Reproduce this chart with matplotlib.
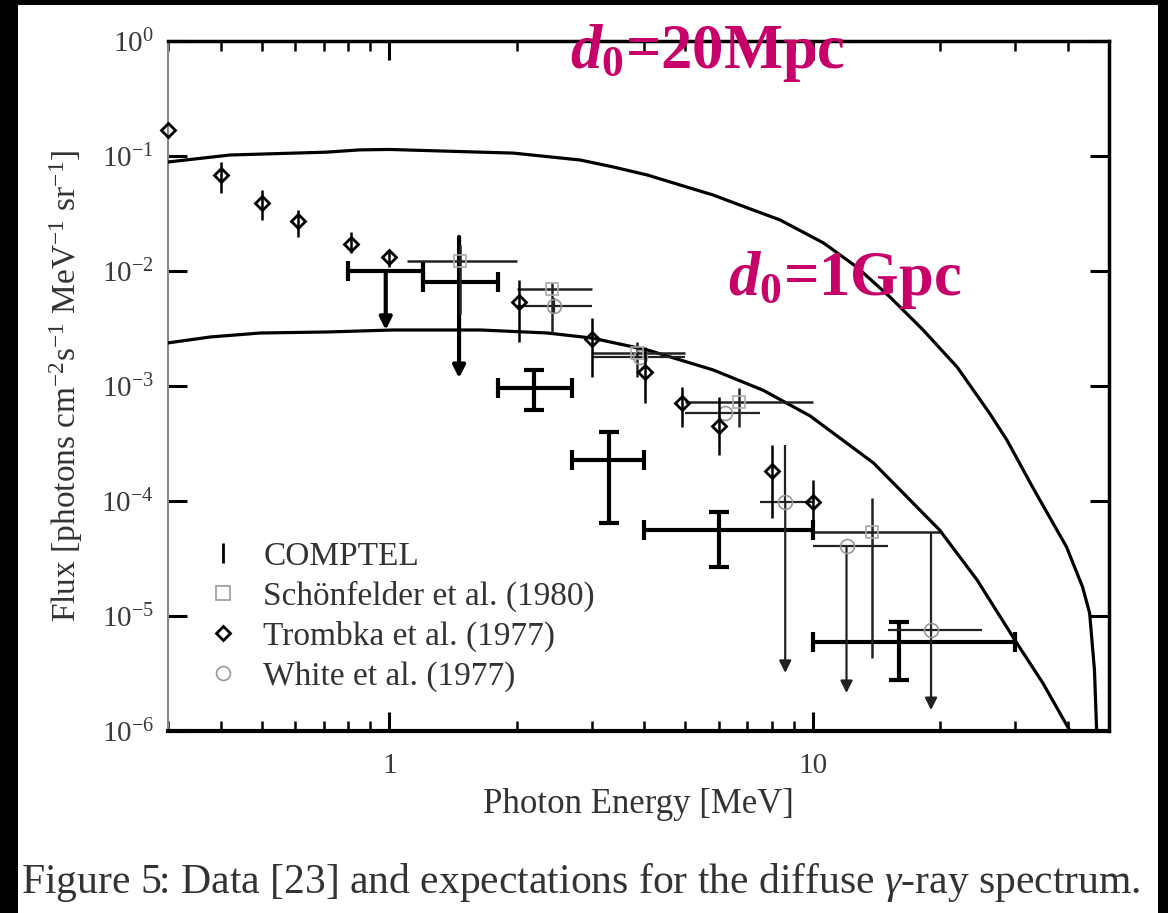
import matplotlib.pyplot as plt
from matplotlib.lines import Line2D
from matplotlib.patches import Rectangle
from matplotlib.ticker import NullLocator, NullFormatter
import numpy as np

plt.rcParams["font.family"] = ["Liberation Serif", "DejaVu Serif"]
plt.rcParams["mathtext.fontset"] = "custom"
plt.rcParams["mathtext.rm"] = "Liberation Serif"
plt.rcParams["mathtext.it"] = "Liberation Serif:italic"
plt.rcParams["mathtext.bf"] = "Liberation Serif:bold"
plt.rcParams["mathtext.bfit"] = "Liberation Serif:italic:bold"

# ---- data (MeV, photons cm^-2 s^-1 MeV^-1 sr^-1) ----
# model curves
d20_e = [0.3, 0.42, 0.71, 0.85, 1.0, 1.64, 1.96, 2.82, 3.38, 4.06, 4.86, 5.81,
         7.0, 8.36, 10.6, 12.7, 15.2, 18.2, 21.9, 26.1, 28.7, 33.0, 39.7,
         43.3, 45.0, 46.2, 46.8]
d20_f = [0.0887, 0.102, 0.108, 0.113, 0.114, 0.108, 0.106, 0.0923, 0.0802,
         0.0684, 0.0559, 0.0458, 0.0354, 0.0278, 0.0175, 0.0108, 5.94e-3,
         3.07e-3, 1.46e-3, 5.82e-4, 3.39e-4, 1.32e-4, 3.98e-5, 1.79e-5,
         1.06e-5, 3.39e-6, 9e-7]
d1g_e = [0.3, 0.378, 0.496, 0.714, 1.02, 1.64, 2.36, 3.01, 4.06, 5.81, 7.62,
         9.84, 13.9, 19.9, 24.4, 30.3, 34.9, 39.7, 41.2]
d1g_f = [2.37e-3, 2.67e-3, 2.89e-3, 2.95e-3, 3.07e-3, 3.07e-3, 2.89e-3,
         2.61e-3, 2.06e-3, 1.38e-3, 9.2e-4, 5.5e-4, 2.14e-4, 5.6e-5, 2.06e-5,
         5.8e-6, 2.61e-6, 1.13e-6, 9e-7]

# COMPTEL measured points
comptel_e = [2.19, 3.3, 6.0, 16.0]
comptel_lo = [1.8, 2.7, 4.0, 10.0]
comptel_hi = [2.7, 4.0, 10.0, 30.0]
comptel_f = [9.6e-4, 2.27e-4, 5.6e-5, 5.9e-6]
comptel_fhi = [1.38e-3, 3.98e-4, 8.0e-5, 8.9e-6]
comptel_flo = [6.2e-4, 6.4e-5, 2.67e-5, 2.77e-6]
# COMPTEL upper limits
comptel_ul_e = [0.98, 1.46]
comptel_ul_lo = [0.8, 1.2]
comptel_ul_hi = [1.2, 1.8]
comptel_ul_f = [1.0e-2, 8.0e-3]
comptel_ul_top = [1.0e-2, 1.98e-2]
comptel_ul_tip = [3.07e-3, 1.17e-3]

# Schoenfelder et al. (1980)
schoen_e = [1.47, 2.42, 3.85, 6.7, 13.8]
schoen_lo = [1.1, 2.0, 3.0, 5.0, 10.0]
schoen_hi = [2.0, 3.0, 5.0, 10.0, 20.0]
schoen_f = [1.22e-2, 6.97e-3, 1.94e-3, 7.3e-4, 5.4e-5]
schoen_fhi = [1.68e-2, 7.9e-3, 2.4e-3, 9.6e-4, 1.06e-4]
schoen_flo = [4.2e-3, 2.89e-3, 1.2e-3, 4.4e-4, 4.3e-6]

# Trombka et al. (1977)
trombka_e = [0.3, 0.40, 0.50, 0.607, 0.81, 1.0, 2.02, 3.01, 4.01, 4.91, 6.0, 8.0, 10.0]
trombka_f = [0.168, 0.068, 0.039, 0.0272, 0.0172, 0.0132, 5.37e-3, 2.56e-3,
             1.32e-3, 7.1e-4, 4.5e-4, 1.82e-4, 9.8e-5]
trombka_fhi = [0.168, 0.0887, 0.0506, 0.0339, 0.0218, 0.0152, 8.35e-3, 3.9e-3,
               2.18e-3, 9.8e-4, 8.0e-4, 3.07e-4, 1.52e-4]
trombka_flo = [0.168, 0.0477, 0.0278, 0.0198, 0.0143, 0.0108, 2.41e-3, 1.2e-3,
               7.1e-4, 4.4e-4, 2.5e-4, 7.1e-5, 6.4e-5]

# White et al. (1977)
white_e = [2.45, 3.9, 6.2, 8.6, 12.0, 19.0]
white_lo = [2.0, 3.0, 5.0, 7.5, 10.0, 15.0]
white_hi = [3.0, 5.0, 7.5, 10.0, 15.0, 25.0]
white_f = [4.96e-3, 1.79e-3, 5.8e-4, 9.9e-5, 4.06e-5, 7.5e-6]
white_fhi = [5.8e-3, 1.79e-3, 5.8e-4, 3.07e-4, 4.06e-5, 5.4e-5]
white_tip = [4.2e-3, 1.79e-3, 5.8e-4, 3.2e-6, 2.14e-6, 1.52e-6]
white_ul = [False, False, False, True, True, True]


def asym(c, lo, hi):
    c, lo, hi = np.asarray(c), np.asarray(lo), np.asarray(hi)
    return [c - lo, hi - c]


fig = plt.figure(figsize=(11.68, 9.13), dpi=100, facecolor="black")
fig.add_artist(Rectangle((18 / 1168, 0), 1140 / 1168, 908 / 913,
                         transform=fig.transFigure, facecolor="white",
                         edgecolor="none", zorder=-5))
ax = fig.add_axes([168 / 1168, 182 / 913, 941 / 1168, 690 / 913])

ax.set_xscale("log")
ax.set_yscale("log")
ax.set_xlim(0.3, 50)
ax.set_ylim(1e-6, 1)

# model curves
ax.plot(d20_e, d20_f, color="k", lw=2.3, zorder=3)
ax.plot(d1g_e, d1g_f, color="k", lw=2.3, zorder=3)

# COMPTEL
ax.errorbar(comptel_e, comptel_f,
            xerr=asym(comptel_e, comptel_lo, comptel_hi),
            yerr=asym(comptel_f, comptel_flo, comptel_fhi),
            fmt="none", ecolor="k", elinewidth=3, capsize=7, capthick=3, zorder=4)
ax.errorbar(comptel_ul_e, comptel_ul_f,
            xerr=asym(comptel_ul_e, comptel_ul_lo, comptel_ul_hi),
            fmt="none", ecolor="k", elinewidth=3, capsize=7, capthick=3, zorder=4)
for e, top, tip in zip(comptel_ul_e, comptel_ul_top, comptel_ul_tip):
    ax.annotate("", xy=(e, tip), xytext=(e, top),
                arrowprops=dict(arrowstyle="-|>", color="k", lw=3,
                                mutation_scale=18, shrinkA=0, shrinkB=0),
                zorder=4)

# Schoenfelder
ax.errorbar(schoen_e, schoen_f,
            xerr=asym(schoen_e, schoen_lo, schoen_hi),
            yerr=asym(schoen_f, schoen_flo, schoen_fhi),
            fmt="s", ms=9, mfc="none", mec="#aaaaaa", mew=1.2,
            ecolor="#222222", elinewidth=1.8, capsize=0, zorder=4)

# White
w_lo = [t if not ul else f for f, t, ul in zip(white_f, white_tip, white_ul)]
ax.errorbar(white_e, white_f,
            xerr=asym(white_e, white_lo, white_hi),
            yerr=asym(white_f, w_lo, white_fhi),
            fmt="o", ms=10, mfc="none", mec="#999999", mew=1.2,
            ecolor="#222222", elinewidth=1.6, capsize=0, zorder=4)
for e, f, tip, ul in zip(white_e, white_f, white_tip, white_ul):
    if ul:
        ax.annotate("", xy=(e, tip), xytext=(e, f),
                    arrowprops=dict(arrowstyle="-|>", color="#222222", lw=1.6,
                                    mutation_scale=18, shrinkA=0, shrinkB=0),
                    zorder=4)

# Trombka
ax.errorbar(trombka_e, trombka_f,
            yerr=asym(trombka_f, trombka_flo, trombka_fhi),
            fmt="D", ms=7.5, mfc="none", mec="k", mew=2,
            ecolor="k", elinewidth=1.8, capsize=0, zorder=5, clip_on=False)

# axes styling
for side in ["top", "right"]:
    ax.spines[side].set_linewidth(2.5)
ax.spines["bottom"].set_linewidth(3)
ax.spines["left"].set_color("#888888")
ax.spines["left"].set_linewidth(1.5)

ax.set_xticks([1, 10], ["1", "10"])
ax.xaxis.set_minor_formatter(NullFormatter())
ax.set_yticks([1e-6, 1e-5, 1e-4, 1e-3, 1e-2, 1e-1, 1],
              [r"$10^{-6}$", r"$10^{-5}$", r"$10^{-4}$", r"$10^{-3}$",
               r"$10^{-2}$", r"$10^{-1}$", r"$10^{0}$"])
ax.yaxis.set_minor_locator(NullLocator())
ax.tick_params(which="both", direction="in", top=True, right=True,
               color="k", labelcolor="#3a3a3a", labelsize=21)
ax.tick_params(which="major", length=14, width=2.2)
ax.tick_params(which="minor", length=7, width=1.8)
ax.tick_params(axis="x", which="major", pad=16)
ax.tick_params(axis="y", which="major", pad=10)

ax.set_xlabel("Photon Energy [MeV]", fontsize=25, color="#333333", labelpad=6)
ax.set_ylabel(r"Flux [photons cm$^{-2}$s$^{-1}$ MeV$^{-1}$ sr$^{-1}$]",
              fontsize=24, color="#333333", labelpad=12)

handles = [
    Line2D([], [], ls="none", marker="|", color="k", ms=14, mew=2),
    Line2D([], [], ls="none", marker="s", mfc="none", mec="#999999", ms=10, mew=1.2),
    Line2D([], [], ls="none", marker="D", mfc="none", mec="k", ms=7, mew=2),
    Line2D([], [], ls="none", marker="o", mfc="none", mec="#999999", ms=10, mew=1.2),
]
labels = ["COMPTEL", "Schönfelder et al. (1980)", "Trombka et al. (1977)",
          "White et al. (1977)"]
ax.legend(handles, labels, loc="upper left", bbox_to_anchor=(0.043, 0.275),
          frameon=False, fontsize=24, handlelength=0.9, handletextpad=0.75,
          labelspacing=0.27, borderpad=0, borderaxespad=0, labelcolor="#333333")

# distance annotations
mag = "#c8006a"
fig.text(570 / 1168, 1 - 68 / 913, r"$\mathbfit{d}_{\mathbf{0}}$=20Mpc",
         color=mag, fontsize=45, fontweight="bold", ha="left", va="baseline")
fig.text(728 / 1168, 1 - 295 / 913, r"$\mathbfit{d}_{\mathbf{0}}$=1Gpc",
         color=mag, fontsize=45, fontweight="bold", ha="left", va="baseline")

fig.text(0.497, 1 - 882 / 913,
         r"Figure 5: Data [23] and expectations for the diffuse $\gamma$-ray spectrum.",
         fontsize=30, color="#333333", ha="center", va="center")

fig.savefig("out.png", dpi=100, facecolor=fig.get_facecolor())
